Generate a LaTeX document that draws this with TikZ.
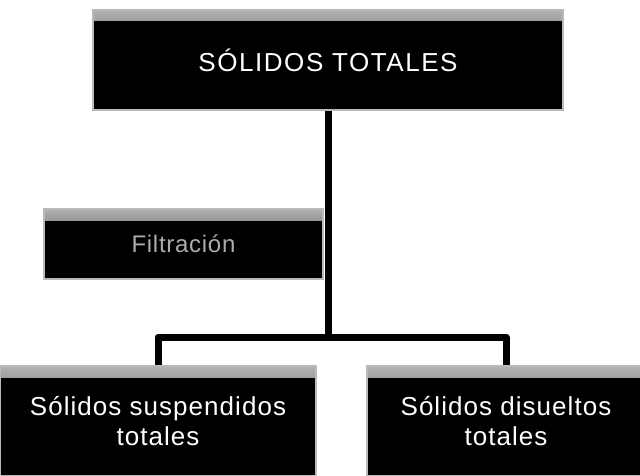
\documentclass[tikz,border=0pt]{standalone}
\usepackage{fontspec}
\setmainfont{Liberation Sans}
\usetikzlibrary{positioning,backgrounds}

\begin{document}
\begin{tikzpicture}[
    x=1pt, y=-1pt,
    bevel-box/.style={draw=gray!55, line width=1.6pt, fill=black, inner sep=0pt, align=center,
      path picture={\shade[top color=gray!60, bottom color=black]
        (path picture bounding box.north west) rectangle ([yshift=-11pt]path picture bounding box.north east);}},
    conn/.style={line width=7pt, line join=round}
  ]
\useasboundingbox (0,0) rectangle (640,476);

% Boxes
\node[bevel-box, minimum width=470pt, minimum height=100pt, text=white,
  font=\fontsize{26}{30}\selectfont\addfontfeatures{LetterSpace=6}] (total) at (328,60) {SÓLIDOS TOTALES};

\node[bevel-box, minimum width=279pt, minimum height=70pt, text=gray!65,
  font=\fontsize{24}{28}\selectfont\addfontfeatures{LetterSpace=3}] (filtro) at (183.5,244) {Filtración};

\node[bevel-box, minimum width=316pt, minimum height=110pt, text=white,
  font=\fontsize{26}{30}\selectfont\addfontfeatures{LetterSpace=4}] (susp) at (158,421) {Sólidos suspendidos\\totales};

\node[bevel-box, minimum width=278pt, minimum height=110pt, text=white,
  font=\fontsize{26}{30}\selectfont\addfontfeatures{LetterSpace=4}] (disu) at (506,421) {Sólidos disueltos\\totales};

% Connectors
\coordinate (split) at (328,337);
\begin{scope}[on background layer]
\draw[conn] (total.south) -- (split);
\draw[conn] (susp.north) |- (split) -| (disu.north);
\end{scope}

\end{tikzpicture}
\end{document}
